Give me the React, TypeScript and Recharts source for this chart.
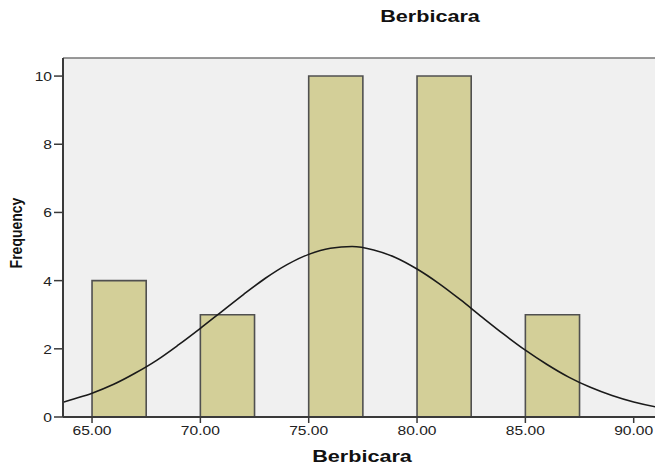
import React from "react";
import {
  ComposedChart,
  Line,
  XAxis,
  YAxis,
  CartesianGrid,
  ReferenceArea,
  ReferenceLine,
} from "recharts";

// histogram bins (lower edge, upper edge, count)
const binStart = [65, 70, 75, 80, 85];
const binEnd = [67.5, 72.5, 77.5, 82.5, 87.5];
const binCount = [4, 3, 10, 10, 3];

// normal curve
const curveX = [
  63.66, 64, 65, 66, 67, 68, 69, 70, 71, 72, 73, 74, 75, 76, 77, 78, 79, 80,
  81, 82, 83, 84, 85, 86, 87, 88, 89, 90, 91, 91.26,
];
const curveY = [
  0.43, 0.5, 0.7, 0.96, 1.29, 1.67, 2.12, 2.6, 3.1, 3.6, 4.07, 4.47, 4.77,
  4.95, 5.0, 4.9, 4.68, 4.34, 3.92, 3.44, 2.93, 2.43, 1.96, 1.54, 1.17, 0.87,
  0.63, 0.44, 0.3, 0.27,
];

const xTicks = [65, 70, 75, 80, 85, 90];
const yTicks = [0, 2, 4, 6, 8, 10];

const X_MIN = 63.66;
const X_MAX = 91.26;
const Y_MAX = 10.53;

const FONT = '"Liberation Sans", Arial, sans-serif';
const BAR_FILL = "#d3cf98";
const BAR_STROKE = "#505050";
const AXIS = "#3a3a3a";

const curveData = curveX.map((x, i) => ({ x, y: curveY[i] }));

function XTick({ x, y, payload }: any) {
  return (
    <g transform={`translate(${x},${y})`}>
      <text
        x={0}
        y={0}
        dy={10}
        textAnchor="middle"
        transform="scale(1.3,1)"
        fontFamily={FONT}
        fontSize={12}
        fill="#222"
      >
        {Number(payload.value).toFixed(2)}
      </text>
    </g>
  );
}

function YTick({ x, y, payload }: any) {
  return (
    <g transform={`translate(${x},${y})`}>
      <text
        x={0}
        y={0}
        dy={5}
        textAnchor="end"
        transform="scale(1.2,1)"
        fontFamily={FONT}
        fontSize={13}
        fill="#222"
      >
        {payload.value}
      </text>
    </g>
  );
}

const labelStyle: React.CSSProperties = {
  position: "absolute",
  fontFamily: FONT,
  fontWeight: "bold",
  color: "#111",
  whiteSpace: "nowrap",
  lineHeight: 1,
};

export default function App() {
  return (
    <div
      style={{
        position: "absolute",
        left: 0,
        top: 0,
        width: 655,
        height: 467,
        overflow: "hidden",
        background: "#fff",
      }}
    >
      <ComposedChart
        width={680}
        height={467}
        data={curveData}
        margin={{ top: 58, right: 19, left: 13, bottom: 0 }}
      >
        <CartesianGrid
          horizontal={false}
          vertical={false}
          fill="#f0f0f0"
          stroke="none"
        />
        <XAxis
          dataKey="x"
          type="number"
          domain={[X_MIN, X_MAX]}
          ticks={xTicks}
          allowDataOverflow
          height={50}
          tick={<XTick />}
          tickSize={6}
          axisLine={{ stroke: AXIS, strokeWidth: 2 }}
          tickLine={{ stroke: AXIS, strokeWidth: 1.5 }}
        />
        <YAxis
          type="number"
          domain={[0, Y_MAX]}
          ticks={yTicks}
          allowDataOverflow
          width={50}
          tick={<YTick />}
          tickSize={9}
          axisLine={{ stroke: AXIS, strokeWidth: 2 }}
          tickLine={{ stroke: AXIS, strokeWidth: 1.5 }}
        />
        <ReferenceLine y={Y_MAX} stroke="#777" strokeWidth={1.5} />
        {binStart.map((s, i) => (
          <ReferenceArea
            key={s}
            x1={s}
            x2={binEnd[i]}
            y1={0}
            y2={binCount[i]}
            fill={BAR_FILL}
            fillOpacity={1}
            stroke={BAR_STROKE}
            strokeWidth={1.6}
            ifOverflow="visible"
          />
        ))}
        <Line
          type="monotone"
          dataKey="y"
          stroke="#1a1a1a"
          strokeWidth={1.6}
          dot={false}
          activeDot={false}
          isAnimationActive={false}
        />
      </ComposedChart>

      <div
        style={{
          ...labelStyle,
          left: 430,
          top: 17,
          fontSize: 16,
          transform: "translate(-50%, -50%) scaleX(1.35)",
        }}
      >
        Berbicara
      </div>
      <div
        style={{
          ...labelStyle,
          left: 362,
          top: 457,
          fontSize: 16,
          transform: "translate(-50%, -50%) scaleX(1.35)",
        }}
      >
        Berbicara
      </div>
      <div
        style={{
          ...labelStyle,
          left: 16,
          top: 233,
          fontSize: 14,
          transform: "translate(-50%, -50%) scaleX(1.15) rotate(-90deg)",
        }}
      >
        Frequency
      </div>
    </div>
  );
}
